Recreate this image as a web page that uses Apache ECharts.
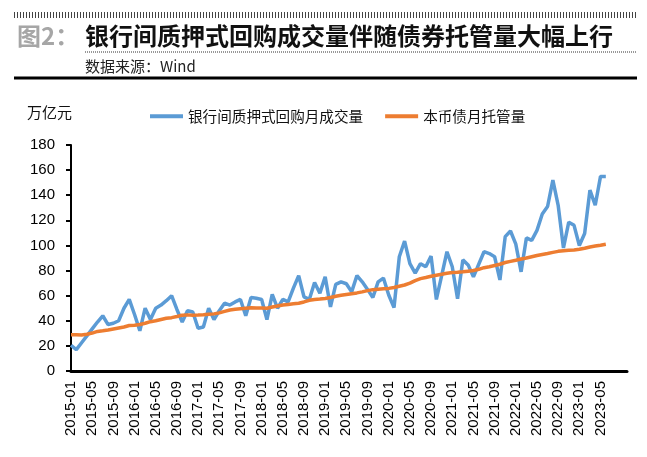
<!DOCTYPE html>
<html><head><meta charset="utf-8">
<script src="https://cdn.jsdelivr.net/npm/echarts@6/dist/echarts.min.js"></script>
<style>html,body{margin:0;padding:0;background:#fff}#c{width:647px;height:457px}</style>
</head><body><div id="c"></div>
<script>
// Categories: monthly 2015-01 .. 2023-10 (axis extends past last data point)
const categories = [];
for (let y = 2015; y <= 2023; y++) {
  for (let m = 1; m <= 12; m++) categories.push(y + '-' + String(m).padStart(2, '0'));
}
categories.length = 106;

// 银行间质押式回购月成交量 (万亿元), 2015-01 .. 2023-06
const repoVolume = [
  20.5, 17, 22.5, 28, 33.5, 39, 44, 37, 38, 40, 50, 57,
  45, 32, 50, 41, 50, 52.5, 56, 60, 49, 39, 48, 47,
  34, 35, 50, 41, 48, 54, 52.5, 55, 57, 44, 58.5, 58,
  57, 41, 61, 50, 57, 55, 66, 76, 59, 57, 70.5, 62,
  75, 51, 69, 71, 69.5, 63, 76, 71, 65, 58.5, 71, 74,
  60.5, 50.5, 91, 103.5, 85.5, 78, 85.5, 83, 91.5, 57, 76, 95,
  83, 57.5, 88.5, 84.5, 75, 85, 95, 93.5, 91, 72.5, 107, 111.5,
  101, 79, 106, 104, 112, 125, 131, 152, 132, 98, 118.5, 116,
  100, 109.5, 144, 132, 155, 155
];

// 本币债月托管量 (万亿元), 2015-01 .. 2023-06
const custody = [
  28.9, 28.8, 28.7, 29.3, 30.2, 31.5, 32, 32.6, 33.4, 34.2, 35, 36.2,
  36.5, 37, 38, 39.3, 40, 41, 42, 42.5, 43.4, 44.5, 44.7, 44.5,
  44.6, 44.8, 45.2, 45.5, 46.3, 47.5, 48.6, 49.2, 49.6, 50, 50.4, 50.2,
  50.1, 50, 51, 51.8, 52.5, 53, 53.5, 54, 55, 56.3, 57, 57.3,
  57.8, 58.5, 59.5, 60.3, 61, 61.6, 62.2, 63, 64, 64.8, 65.2, 65.6,
  65.8, 66.5, 67.5, 68.5, 70, 72, 73.6, 74.5, 75.5, 76.3, 77, 77.8,
  78.4, 78.6, 79, 79.5, 80, 81, 82.3, 83, 84, 85, 86.4, 87.3,
  88.2, 89.2, 90, 91, 92, 92.8, 93.6, 94.5, 95.3, 95.8, 96.2, 96.4,
  97, 97.8, 98.8, 99.5, 100.2, 101
];

const seriesNames = ['银行间质押式回购月成交量', '本币债月托管量'];
const seriesColors = ['#5B9BD5', '#ED7D31'];
const titleLabel = '图2：';
const titleText = '银行间质押式回购成交量伴随债券托管量大幅上行';
const sourceText = '数据来源：Wind';
const unitText = '万亿元';

const CJK = '"Noto Sans CJK SC", sans-serif';
const LAT = '"Liberation Sans", Arial, sans-serif';

const chart = echarts.init(document.getElementById('c'), null, {renderer: 'canvas'});
chart.setOption({
  animation: false,
  backgroundColor: '#ffffff',
  grid: {left: 71, right: 20, top: 145, bottom: 86},
  legend: {
    left: 145, top: 104,
    itemWidth: 33, itemHeight: 4, itemGap: 22,
    icon: 'rect',
    textStyle: {fontSize: 14.6, color: '#111', fontFamily: CJK},
    data: seriesNames
  },
  xAxis: {
    type: 'category',
    data: categories,
    boundaryGap: false,
    axisLine: {lineStyle: {color: '#000', width: 3}},
    axisTick: {show: false},
    axisLabel: {
      rotate: 90, fontSize: 15, color: '#000', fontFamily: LAT, margin: 10,
      interval: function (idx) { return idx % 4 === 0 && idx <= 100; }
    },
    splitLine: {show: false}
  },
  yAxis: {
    type: 'value',
    min: 0, max: 180, interval: 20,
    axisLine: {show: true, lineStyle: {color: '#000', width: 2}},
    axisTick: {show: true, length: 5, lineStyle: {color: '#000', width: 2}},
    axisLabel: {fontSize: 15, color: '#000', fontFamily: LAT, margin: 16},
    splitLine: {show: false}
  },
  series: [
    {name: seriesNames[0], type: 'line', data: repoVolume, showSymbol: false, symbol: 'none',
     lineStyle: {width: 3.5, color: seriesColors[0]}, itemStyle: {color: seriesColors[0]}},
    {name: seriesNames[1], type: 'line', data: custody, showSymbol: false, symbol: 'none',
     lineStyle: {width: 3.5, color: seriesColors[1]}, itemStyle: {color: seriesColors[1]}}
  ],
  graphic: [
    {type: 'line', shape: {x1: 14, y1: 15, x2: 637, y2: 15}, style: {stroke: '#444', lineWidth: 6, lineDash: [1, 2]}},
    {type: 'text', x: 17, y: 36, style: {text: titleLabel, fill: '#a6a6a6', fontSize: 24, fontWeight: 'bold', fontFamily: CJK, verticalAlign: 'middle'}},
    {type: 'text', x: 85, y: 36, style: {text: titleText, fill: '#111', fontSize: 24, fontWeight: 'bold', fontFamily: CJK, verticalAlign: 'middle'}},
    {type: 'line', shape: {x1: 85, y1: 52, x2: 637, y2: 52}, style: {stroke: '#333', lineWidth: 1, lineDash: [1, 1]}},
    {type: 'text', x: 85, y: 66, style: {text: sourceText, fill: '#222', fontSize: 15, fontFamily: CJK, verticalAlign: 'middle'}},
    {type: 'line', shape: {x1: 14, y1: 78, x2: 637, y2: 78}, style: {stroke: '#000', lineWidth: 3}},
    {type: 'text', x: 27, y: 112, style: {text: unitText, fill: '#111', fontSize: 15, fontFamily: CJK, verticalAlign: 'middle'}}
  ]
});
</script></body></html>
